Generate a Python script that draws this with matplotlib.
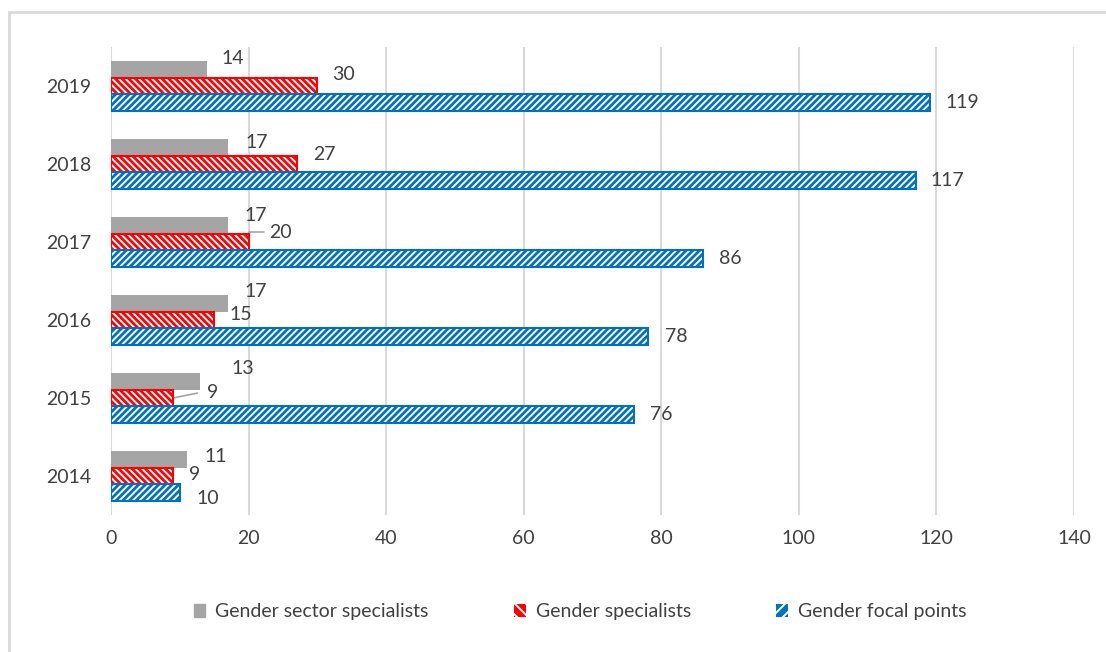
import matplotlib.pyplot as plt
from matplotlib.patches import Patch
import numpy as np

years = ['2014', '2015', '2016', '2017', '2018', '2019']
sector_specialists = [11, 13, 17, 17, 17, 14]
specialists = [9, 9, 15, 20, 27, 30]
focal_points = [10, 76, 78, 86, 117, 119]

series_names = ['Gender sector specialists', 'Gender specialists', 'Gender focal points']

# label nudges in pixels (dx from bar end, dy from bar centre), one per year
sector_nudge = [(18, 3), (31, 13), (17, 12), (17, 10), (18, 5), (14, 11)]
spec_nudge = [(16, 1), (34, 5), (15, 5), (21, 10), (16, 9), (15, 12)]
focal_nudge = [(17, -6), (16, 0), (17, 0), (16, 0), (15, 0), (16, 0)]

GREY = '#a5a5a5'
RED = '#ff0000'
BLUE = '#0070c0'
TEXT = '#404040'

plt.rcParams['font.family'] = ['Lato', 'DejaVu Sans']
plt.rcParams['hatch.linewidth'] = 1.4

fig = plt.figure(figsize=(11.06, 6.52), dpi=100)
ax = fig.add_axes([111 / 1106, 1 - 515 / 652, (1074 - 111) / 1106, (515 - 47) / 652])

y = np.arange(len(years))
h = 0.21

ax.barh(y + h, sector_specialists, height=h, color=GREY, linewidth=0, zorder=3)

ax.barh(y, specialists, height=h, color=RED, edgecolor='white', hatch='\\\\\\\\\\', linewidth=0, zorder=3)
ax.barh(y, specialists, height=h, fill=False, edgecolor=RED, linewidth=1.5, zorder=4)

ax.barh(y - h, focal_points, height=h, color=BLUE, edgecolor='white', hatch='/////', linewidth=0, zorder=3)
ax.barh(y - h, focal_points, height=h, fill=False, edgecolor=BLUE, linewidth=1.5, zorder=4)

for values, offset, nudges in [(sector_specialists, h, sector_nudge),
                               (specialists, 0, spec_nudge),
                               (focal_points, -h, focal_nudge)]:
    for i, v in enumerate(values):
        dx, dy = nudges[i]
        ax.annotate(str(v), xy=(v, y[i] + offset), xytext=(dx, dy), textcoords='offset pixels',
                    ha='left', va='center', fontsize=14, color=TEXT, zorder=5)

# leader lines for labels pushed away from their bars
ax.annotate('', xy=(specialists[3], y[3]), xytext=(21, 10), textcoords='offset pixels',
            arrowprops=dict(arrowstyle='-', color=GREY, lw=1.2,
                            connectionstyle='angle,angleA=0,angleB=90,rad=0',
                            shrinkA=4, shrinkB=0))
ax.annotate('', xy=(specialists[1], y[1]), xytext=(30, 6), textcoords='offset pixels',
            arrowprops=dict(arrowstyle='-', color=GREY, lw=1.2, shrinkA=4, shrinkB=0))

ax.set_xlim(0, 140)
ax.set_ylim(-0.5, len(years) - 0.5)
ax.set_xticks(np.arange(0, 141, 20))
ax.set_yticks(y)
ax.set_yticklabels(years)
ax.tick_params(axis='both', length=0, labelsize=14, labelcolor=TEXT)
ax.tick_params(axis='x', pad=11)
ax.tick_params(axis='y', pad=14)
ax.grid(axis='x', color='#d9d9d9', linewidth=1.5, zorder=0)
ax.set_axisbelow(True)
for s in ax.spines.values():
    s.set_visible(False)

handles = [Patch(facecolor=GREY, edgecolor=GREY),
           Patch(facecolor=RED, edgecolor='white', hatch='\\\\\\', linewidth=0),
           Patch(facecolor=BLUE, edgecolor='white', hatch='///', linewidth=0)]
fig.legend(handles, series_names, loc='center', bbox_to_anchor=(580 / 1106, 1 - 612 / 652),
           ncol=3, frameon=False, fontsize=14, handlelength=0.6, handleheight=0.6,
           handletextpad=0.5, columnspacing=4.4, labelcolor=TEXT)

# chart frame
fig.add_artist(plt.Rectangle((9 / 1106, -0.05), 1.2, 1 - 12 / 652 + 0.05, transform=fig.transFigure,
                             fill=False, edgecolor='#d9d9d9', linewidth=2))

fig.savefig('out.png', dpi=100)
